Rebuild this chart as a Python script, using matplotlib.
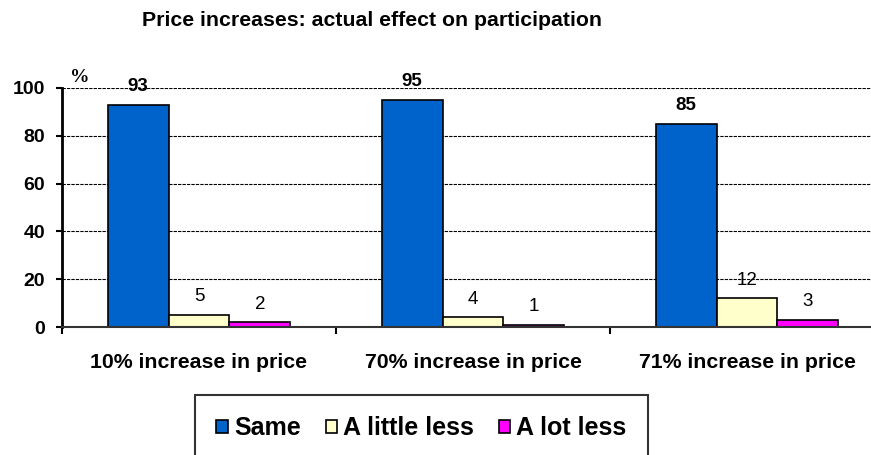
import matplotlib
matplotlib.use('Agg')
import matplotlib.pyplot as plt
import numpy as np

plt.rcParams['font.family'] = ['Liberation Sans', 'DejaVu Sans']

categories = ['10% increase in price', '70% increase in price', '71% increase in price']
same = [93, 95, 85]
little_less = [5, 4, 12]
lot_less = [2, 1, 3]

series = [('Same', same, '#0063CC', 'bold'),
          ('A little less', little_less, '#FFFFCC', 'normal'),
          ('A lot less', lot_less, '#FF00FF', 'normal')]

fig = plt.figure(figsize=(8.71, 4.55), dpi=100)
ax = fig.add_axes([62/871, 128/455, 822/871, 239/455])

x = np.arange(len(categories))
w = 0.222
for i, (name, vals, col, wt) in enumerate(series):
    pos = x + (i - 1) * w
    ax.bar(pos, vals, w, color=col, edgecolor='black', linewidth=1.2, label=name, zorder=3)
    for px, v in zip(pos, vals):
        ax.annotate(str(v), (px, v), xytext=(0, 13), textcoords='offset points',
                    ha='center', va='center', fontsize=13.5, fontweight=wt, zorder=4)

ax.set_xlim(-0.5, 2.5)
ax.set_ylim(0, 100)
ax.set_yticks(range(0, 101, 20))
ax.set_yticklabels([str(v) for v in range(0, 101, 20)], fontsize=14, fontweight='bold')
ax.tick_params(axis='y', length=4, width=1.5, pad=8, direction='out')

ax.set_xticks(x)
ax.set_xticklabels(categories, fontsize=15.3, fontweight='bold')
ax.tick_params(axis='x', which='major', length=0, pad=19)
ax.set_xticks([-0.5, 0.5, 1.5, 2.5], minor=True)
ax.tick_params(axis='x', which='minor', length=5, width=1.5, direction='out')

ax.yaxis.grid(True, linestyle=(0, (3, 1)), color='black', linewidth=0.8, zorder=0)
for s in ['top', 'right']:
    ax.spines[s].set_visible(False)
ax.spines['left'].set_linewidth(2)
ax.spines['bottom'].set_linewidth(1.5)
ax.spines['bottom'].set_color('#333333')
ax.spines['bottom'].set_zorder(5)

ax.text(80/871, 1 - 77/455, '%', transform=fig.transFigure, ha='center', va='center',
        fontsize=14, fontweight='bold', family='Liberation Serif')

fig.text(372/871, 1 - 21/455, 'Price increases: actual effect on participation',
         ha='center', va='center', fontsize=15.3, fontweight='bold')

leg = fig.legend(loc='upper center', bbox_to_anchor=(421.5/871, 1 - 395/455), ncol=3,
                 prop={'size': 18, 'weight': 'bold'}, frameon=True, fancybox=False,
                 edgecolor='black', handlelength=0.45, handleheight=0.45,
                 handletextpad=0.25, columnspacing=1.0, borderpad=0.85, borderaxespad=0)
leg.get_frame().set_linewidth(1.5)

fig.savefig('out.png', dpi=100)
